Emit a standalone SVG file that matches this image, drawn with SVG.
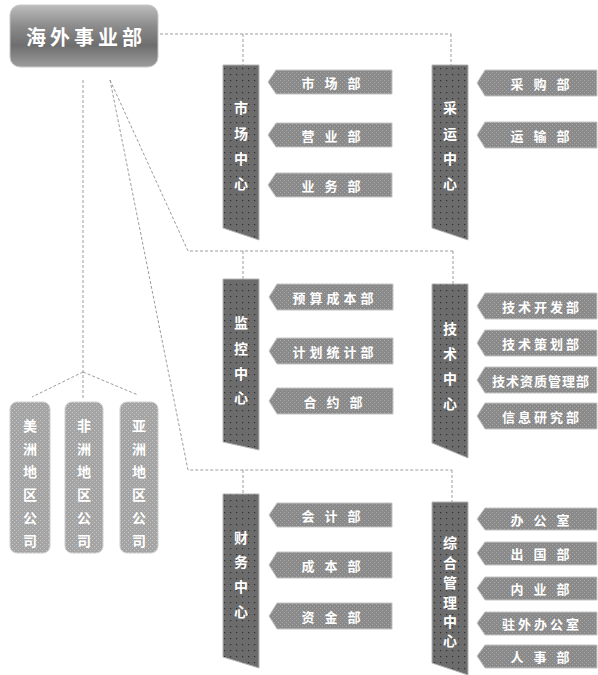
<svg xmlns="http://www.w3.org/2000/svg" width="598" height="675" viewBox="0 0 598 675">
<defs>
<pattern id="dots" width="6" height="6" patternUnits="userSpaceOnUse">
<rect width="6" height="6" fill="#6c6c6c"/>
<rect x="2" y="2" width="1.2" height="1.2" fill="#2e2e2e"/>
</pattern>
<pattern id="grain" width="4" height="4" patternUnits="userSpaceOnUse">
<rect width="4" height="4" fill="#8a8a8a"/>
<rect x="0" y="0" width="1" height="1" fill="#a9a9a9"/>
<rect x="2" y="2" width="1" height="1" fill="#a9a9a9"/>
</pattern>
<pattern id="grain2" width="4" height="4" patternUnits="userSpaceOnUse">
<rect width="4" height="4" fill="#a4a4a4"/>
<rect x="0" y="0" width="1" height="1" fill="#c8c8c8"/>
<rect x="2" y="2" width="1" height="1" fill="#c8c8c8"/>
</pattern>
<linearGradient id="topg" x1="0" y1="0" x2="0" y2="1">
<stop offset="0" stop-color="#bdbdbd"/>
<stop offset="0.35" stop-color="#8a8a8a"/>
<stop offset="0.65" stop-color="#6e6e6e"/>
<stop offset="1" stop-color="#9c9c9c"/>
</linearGradient>
</defs>
<style>
.ln{fill:none;stroke:#9c9c9c;stroke-width:1;stroke-dasharray:3 2}
.band{fill:url(#dots);stroke:#b5b5b5;stroke-width:1}
.tag{fill:url(#grain);stroke:#c4c4c4;stroke-width:1}
.sub{fill:url(#grain2);stroke:#cfcfcf;stroke-width:1}
.t{font-family:"Noto Sans CJK SC","Noto Sans CJK JP",sans-serif;font-weight:bold;fill:#ffffff;text-anchor:middle;dominant-baseline:central}
.tt{font-size:13px}
.vt{font-size:14px}
</style>
<rect width="598" height="675" fill="#ffffff"/>

<g id="connectors">
<path class="ln" d="M160,34 H451 M243,34 V65 M451,34 V65"/>
<path class="ln" d="M110,80 L188,251 H453 M243,251 V279 M453,251 V284"/>
<path class="ln" d="M110,80 L188,470 H452 M243,470 V494 M452,470 V502"/>
<path class="ln" d="M83,80 V400 M83,372 L32,397 M83,372 L138,395"/>
</g>

<g id="root">
<rect x="10" y="5" width="148" height="62" rx="10" fill="url(#topg)" stroke="#c8c8c8"/>
<text class="t" x="86" y="36" font-size="20" letter-spacing="4">海外事业部</text>
</g>

<g id="market">
<polygon class="band" points="223,65 259,65 259,240 223,228"/>
<text class="t vt" x="241" y="107">市</text>
<text class="t vt" x="241" y="133">场</text>
<text class="t vt" x="241" y="158">中</text>
<text class="t vt" x="241" y="183">心</text>
</g>
<g id="market-1"><polygon class="tag" points="268,82 276,70 392,70 392,94 276,94"/><text class="t tt" x="336" y="82" letter-spacing="10">市场部</text></g>
<g id="market-2"><polygon class="tag" points="268,135 276,123 392,123 392,147 276,147"/><text class="t tt" x="336" y="135" letter-spacing="10">营业部</text></g>
<g id="market-3"><polygon class="tag" points="268,185 276,173 392,173 392,197 276,197"/><text class="t tt" x="336" y="185" letter-spacing="10">业务部</text></g>

<g id="transport">
<polygon class="band" points="432,65 468,65 468,240 432,228"/>
<text class="t vt" x="450" y="107">采</text>
<text class="t vt" x="450" y="133">运</text>
<text class="t vt" x="450" y="158">中</text>
<text class="t vt" x="450" y="183">心</text>
</g>
<g id="transport-1"><polygon class="tag" points="477,83 485,70 597,70 597,96 485,96"/><text class="t tt" x="545" y="83" letter-spacing="10">采购部</text></g>
<g id="transport-2"><polygon class="tag" points="477,135 485,122 597,122 597,148 485,148"/><text class="t tt" x="545" y="135" letter-spacing="10">运输部</text></g>

<g id="monitor">
<polygon class="band" points="223,279 259,279 259,450 223,442"/>
<text class="t vt" x="241" y="322">监</text>
<text class="t vt" x="241" y="348">控</text>
<text class="t vt" x="241" y="373">中</text>
<text class="t vt" x="241" y="397">心</text>
</g>
<g id="monitor-1"><polygon class="tag" points="269,297 277,284 393,284 393,310 277,310"/><text class="t tt" x="335" y="297" letter-spacing="4">预算成本部</text></g>
<g id="monitor-2"><polygon class="tag" points="269,351 277,338 393,338 393,364 277,364"/><text class="t tt" x="335" y="351" letter-spacing="4">计划统计部</text></g>
<g id="monitor-3"><polygon class="tag" points="269,401 277,388 393,388 393,414 277,414"/><text class="t tt" x="338" y="401" letter-spacing="10">合约部</text></g>

<g id="tech">
<polygon class="band" points="432,284 468,284 468,458 432,443"/>
<text class="t vt" x="450" y="328">技</text>
<text class="t vt" x="450" y="353">术</text>
<text class="t vt" x="450" y="378">中</text>
<text class="t vt" x="450" y="403">心</text>
</g>
<g id="tech-1"><polygon class="tag" points="477,306 485,293 597,293 597,319 485,319"/><text class="t tt" x="542" y="306" letter-spacing="3">技术开发部</text></g>
<g id="tech-2"><polygon class="tag" points="477,343 485,330 597,330 597,356 485,356"/><text class="t tt" x="542" y="343" letter-spacing="3">技术策划部</text></g>
<g id="tech-3"><polygon class="tag" points="477,380 485,367 597,367 597,393 485,393"/><text class="t tt" x="541" y="380" letter-spacing="1">技术资质管理部</text></g>
<g id="tech-4"><polygon class="tag" points="477,416 485,403 597,403 597,429 485,429"/><text class="t tt" x="542" y="416" letter-spacing="3">信息研究部</text></g>

<g id="finance">
<polygon class="band" points="223,494 259,494 259,668 223,657"/>
<text class="t vt" x="241" y="537">财</text>
<text class="t vt" x="241" y="561">务</text>
<text class="t vt" x="241" y="586">中</text>
<text class="t vt" x="241" y="611">心</text>
</g>
<g id="finance-1"><polygon class="tag" points="269,515 277,503 392,503 392,527 277,527"/><text class="t tt" x="336" y="515" letter-spacing="10">会计部</text></g>
<g id="finance-2"><polygon class="tag" points="269,565 277,552 392,552 392,578 277,578"/><text class="t tt" x="336" y="565" letter-spacing="10">成本部</text></g>
<g id="finance-3"><polygon class="tag" points="269,616 277,603 392,603 392,629 277,629"/><text class="t tt" x="336" y="616" letter-spacing="10">资金部</text></g>

<g id="admin">
<polygon class="band" points="432,502 468,502 468,675 432,663"/>
<text class="t vt" x="450" y="542">综</text>
<text class="t vt" x="450" y="562">合</text>
<text class="t vt" x="450" y="582">管</text>
<text class="t vt" x="450" y="602">理</text>
<text class="t vt" x="450" y="621">中</text>
<text class="t vt" x="450" y="640">心</text>
</g>
<g id="admin-1"><polygon class="tag" points="477,519 485,508 597,508 597,530 485,530"/><text class="t tt" x="545" y="519" letter-spacing="10">办公室</text></g>
<g id="admin-2"><polygon class="tag" points="477,553 485,542 597,542 597,565 485,565"/><text class="t tt" x="545" y="553" letter-spacing="10">出国部</text></g>
<g id="admin-3"><polygon class="tag" points="477,588 485,577 597,577 597,600 485,600"/><text class="t tt" x="545" y="588" letter-spacing="10">内业部</text></g>
<g id="admin-4"><polygon class="tag" points="477,623 485,612 597,612 597,635 485,635"/><text class="t tt" x="542" y="623" letter-spacing="3">驻外办公室</text></g>
<g id="admin-5"><polygon class="tag" points="477,656 485,645 597,645 597,668 485,668"/><text class="t tt" x="545" y="656" letter-spacing="10">人事部</text></g>

<g id="sub-america">
<rect class="sub" x="10" y="402" width="40" height="151" rx="7"/>
<text class="t vt" x="30" y="425">美</text>
<text class="t vt" x="30" y="448">洲</text>
<text class="t vt" x="30" y="471">地</text>
<text class="t vt" x="30" y="494">区</text>
<text class="t vt" x="30" y="517">公</text>
<text class="t vt" x="30" y="540">司</text>
</g>
<g id="sub-africa">
<rect class="sub" x="65" y="402" width="38" height="151" rx="7"/>
<text class="t vt" x="84" y="425">非</text>
<text class="t vt" x="84" y="448">洲</text>
<text class="t vt" x="84" y="471">地</text>
<text class="t vt" x="84" y="494">区</text>
<text class="t vt" x="84" y="517">公</text>
<text class="t vt" x="84" y="540">司</text>
</g>
<g id="sub-asia">
<rect class="sub" x="120" y="402" width="38" height="151" rx="7"/>
<text class="t vt" x="139" y="425">亚</text>
<text class="t vt" x="139" y="448">洲</text>
<text class="t vt" x="139" y="471">地</text>
<text class="t vt" x="139" y="494">区</text>
<text class="t vt" x="139" y="517">公</text>
<text class="t vt" x="139" y="540">司</text>
</g>
</svg>
